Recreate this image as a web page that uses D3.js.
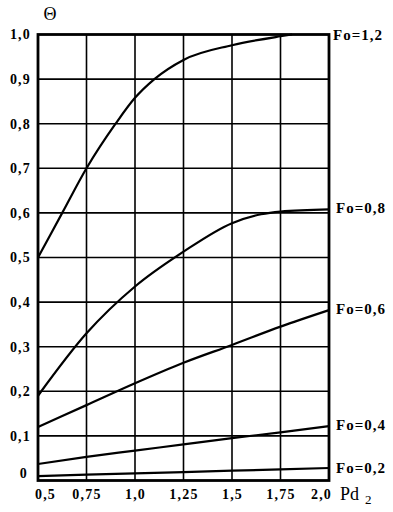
<!DOCTYPE html>
<html><head><meta charset="utf-8">
<script src="https://cdn.jsdelivr.net/npm/d3@7"></script>
<style>
html,body{margin:0;padding:0;background:#fff;}
svg{display:block;}
text{font-family:"Liberation Serif","Times New Roman",serif;fill:#000;}
</style></head>
<body>
<svg id="chart" width="393" height="512"></svg>
<script>
const xTicks = [0.5, 0.75, 1.0, 1.25, 1.5, 1.75, 2.0];
const xTickLabels = ["0,5", "0,75", "1,0", "1,25", "1,5", "1,75", "2,0"];
const yTicks = [0, 0.1, 0.2, 0.3, 0.4, 0.5, 0.6, 0.7, 0.8, 0.9, 1.0];
const yTickLabels = ["0", "0,1", "0,2", "0,3", "0,4", "0,5", "0,6", "0,7", "0,8", "0,9", "1,0"];

const seriesNames = ["Fo=1,2", "Fo=0,8", "Fo=0,6", "Fo=0,4", "Fo=0,2"];
const fo12X = [0.5, 0.625, 0.75, 0.9, 1.0, 1.1, 1.25, 1.5, 1.75, 1.81];
const fo12Y = [0.5, 0.6, 0.7, 0.8, 0.858, 0.9, 0.943, 0.976, 0.996, 1.0];
const fo08X = [0.5, 0.75, 1.0, 1.25, 1.5, 1.65, 1.75, 2.0];
const fo08Y = [0.19, 0.33, 0.435, 0.513, 0.577, 0.597, 0.603, 0.608];
const fo06X = [0.5, 0.75, 1.0, 1.25, 1.5, 1.75, 2.0];
const fo06Y = [0.12, 0.169, 0.218, 0.264, 0.304, 0.345, 0.382];
const fo04X = [0.5, 0.75, 1.0, 1.25, 1.5, 1.75, 2.0];
const fo04Y = [0.037, 0.053, 0.067, 0.081, 0.095, 0.108, 0.122];
const fo02X = [0.5, 1.0, 1.5, 2.0];
const fo02Y = [0.010, 0.016, 0.022, 0.028];
// label anchor (y value at the right edge where the label sits)
const labelY = [1.0, 0.61, 0.385, 0.125, 0.028];

const svg = d3.select("#chart");
const x = d3.scaleLinear().domain([0.5, 2.0]).range([38, 329]);
const y = d3.scaleLinear().domain([0, 1.0]).range([480.5, 34.5]);

// grid
const g = svg.append("g");
g.selectAll("line.vx").data(xTicks.slice(1, -1)).enter().append("line")
  .attr("x1", d => x(d)).attr("x2", d => x(d)).attr("y1", y(1)).attr("y2", y(0))
  .attr("stroke", "#000").attr("stroke-width", 1.6);
g.selectAll("line.hy").data(yTicks.slice(1, -1)).enter().append("line")
  .attr("x1", x(0.5)).attr("x2", x(2.0)).attr("y1", d => y(d)).attr("y2", d => y(d))
  .attr("stroke", "#000").attr("stroke-width", 1.6);

// frame
svg.append("rect").attr("x", x(0.5)).attr("y", y(1)).attr("width", x(2.0) - x(0.5)).attr("height", y(0) - y(1))
  .attr("fill", "none").attr("stroke", "#000").attr("stroke-width", 2.8);

// axes labels via d3 axes (no lines)
const xAxis = d3.axisBottom(x).tickValues(xTicks).tickFormat((d, i) => xTickLabels[i]).tickSize(0).tickPadding(9);
const xa = svg.append("g").attr("transform", `translate(0,${y(0)})`).call(xAxis);
xa.select(".domain").remove();
xa.selectAll("text").style("font-weight", "bold").style("font-size", "14px").style("letter-spacing", "1.2px");
xa.selectAll(".tick").filter(d => d === 0.5).select("text").attr("dx", 7);
xa.selectAll(".tick").filter(d => d === 2.0).select("text").attr("dx", -8);

const yAxis = d3.axisLeft(y).tickValues(yTicks).tickFormat((d, i) => yTickLabels[i]).tickSize(0).tickPadding(7);
const ya = svg.append("g").attr("transform", `translate(${x(0.5)},0)`).call(yAxis);
ya.select(".domain").remove();
ya.selectAll("text").style("font-weight", "bold").style("font-size", "14px").style("letter-spacing", "1.2px");
ya.selectAll(".tick").filter(d => d === 0).select("text").attr("dy", "-0.25em").attr("dx", -3);

// curves
const allX = [fo12X, fo08X, fo06X, fo04X, fo02X];
const allY = [fo12Y, fo08Y, fo06Y, fo04Y, fo02Y];
const line = d3.line().x(d => x(d[0])).y(d => y(d[1])).curve(d3.curveMonotoneX);
allX.forEach((xs, i) => {
  const pts = xs.map((v, j) => [v, allY[i][j]]);
  svg.append("path").attr("d", line(pts)).attr("fill", "none").attr("stroke", "#000").attr("stroke-width", 2.2);
});

// series labels
svg.selectAll("text.lab").data(seriesNames).enter().append("text")
  .attr("x", (d, i) => i === 0 ? x(2.0) + 4 : x(2.0) + 7)
  .attr("y", (d, i) => y(labelY[i]) + 5)
  .style("font-weight", "bold").style("font-size", "15px").style("letter-spacing", "1px")
  .text(d => d);

// axis titles
svg.append("text").attr("x", 50).attr("y", 20).attr("text-anchor", "middle").style("font-size", "18px").text("Θ");
const pd = svg.append("text").attr("x", 340).attr("y", 500).style("font-size", "18px");
pd.append("tspan").text("Pd");
pd.append("tspan").attr("dx", 6).attr("dy", 4).style("font-size", "13px").text("2");
</script>
</body></html>
